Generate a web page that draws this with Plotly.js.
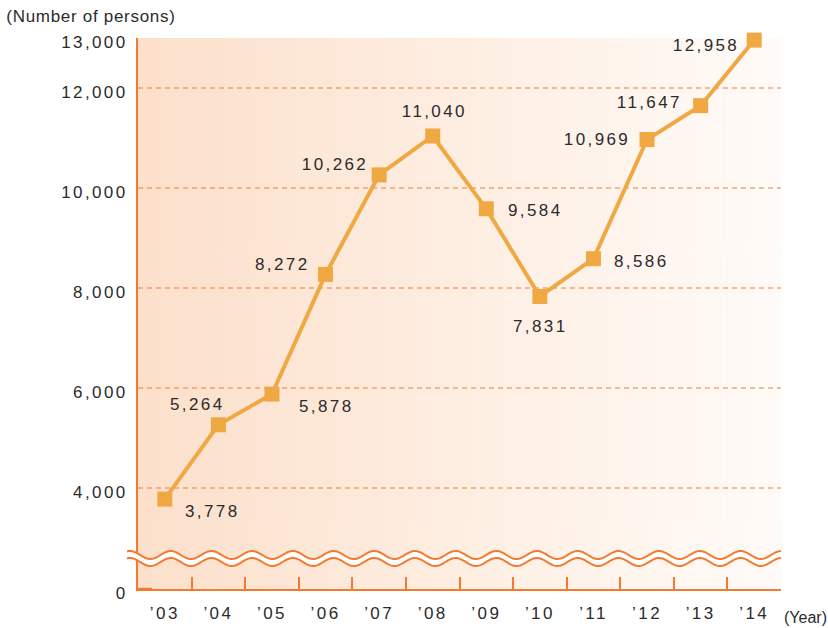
<!DOCTYPE html>
<html>
<head>
<meta charset="utf-8">
<script src="https://cdn.plot.ly/plotly-3.0.1.min.js"></script>
<style>
  html, body { margin: 0; padding: 0; background: #fff; }
  #chart { width: 828px; height: 628px; }
  .xtick text, .ytick text { letter-spacing: 2.4px; }
</style>
</head>
<body>
<div id="chart"></div>
<script>
// ---- data ----
var years = ["\u201903", "\u201904", "\u201905", "\u201906", "\u201907", "\u201908",
             "\u201909", "\u201910", "\u201911", "\u201912", "\u201913", "\u201914"];
var persons = [3778, 5264, 5878, 8272, 10262, 11040, 9584, 7831, 8586, 10969, 11647, 12958];
var yTickVals = [1980, 4000, 6000, 8000, 10000, 12000, 13000];
var yTickText = ["0", "4,000", "6,000", "8,000", "10,000", "12,000", "13,000"];
var gridVals = [4000, 6000, 8000, 10000, 12000];

// ---- label offsets (pixels, screen: right / down) ----
var labelDx = [48, -21, 55, -43, -44, 2, 49, 1, 48, -50, -51, -48];
var labelDy = [12, -20, 12, -10, -10, -25, 2, 30, 3, 0, -3, 5];

// ---- layout geometry ----
var W = 828, H = 628;
var mL = 138, mR = 47, mT = 38, mB = 39;
var pw = W - mL - mR, ph = H - mT - mB;
var axisColor = "#F47A30";
var lineColor = "#F0A843";
var textColor = "#2b2b2b";
var fontFam = "Liberation Sans, Arial, sans-serif";

function px2x(px) { return (px - mL) / pw; }
function py2y(py) { return (H - mB - py) / ph; }

// background gradient
var cv = document.createElement("canvas");
cv.width = 400; cv.height = 4;
var ctx = cv.getContext("2d");
var g = ctx.createLinearGradient(0, 0, 400, 0);
g.addColorStop(0, "#FCE0CB");
g.addColorStop(0.5, "#FEEEE2");
g.addColorStop(1, "#FFFBF8");
ctx.fillStyle = g;
ctx.fillRect(0, 0, 400, 4);
var bgURL = cv.toDataURL("image/png");

// wave break
function wavePts(cy, amp, x0, x1, reverse) {
  var pts = [];
  var period = 40.7, crest0 = 130;
  for (var x = x0; x <= x1 + 0.001; x += 1.5) {
    var y = cy - amp * Math.cos(2 * Math.PI * (x - crest0) / period);
    pts.push([px2x(x), py2y(y)]);
  }
  if (reverse) pts.reverse();
  return pts;
}
function ptsPath(pts, start) {
  return pts.map(function (p, i) {
    return (i === 0 && start ? "M" : "L") + p[0].toFixed(5) + "," + p[1].toFixed(5);
  }).join(" ");
}
var wx0 = 127, wx1 = 782;
var topW = wavePts(555, 4, wx0, wx1, false);
var botW = wavePts(562, 4, wx0, wx1, true);
var fillPath = ptsPath(topW, true) + " " + ptsPath(botW, false) + " Z";

var shapes = [];
gridVals.forEach(function (v) {
  shapes.push({
    type: "line", xref: "paper", yref: "y", x0: 0, x1: 1, y0: v, y1: v,
    line: { color: axisColor, width: 1, dash: "5px,4px" }, layer: "below"
  });
});
shapes.push({
  type: "line", xref: "paper", yref: "paper", x0: 0, x1: px2x(152), y0: 0, y1: 0,
  line: { color: axisColor, width: 2.5 }, layer: "above"
});
shapes.push({ type: "path", xref: "paper", yref: "paper", path: fillPath,
  fillcolor: "#ffffff", line: { width: 0 }, layer: "above" });
shapes.push({ type: "path", xref: "paper", yref: "paper", path: ptsPath(topW, true),
  line: { color: axisColor, width: 2 }, layer: "above" });
shapes.push({ type: "path", xref: "paper", yref: "paper", path: ptsPath(wavePts(562, 4, wx0, wx1, false), true),
  line: { color: axisColor, width: 2 }, layer: "above" });

var annotations = persons.map(function (v, i) {
  return {
    x: years[i], y: v, xref: "x", yref: "y",
    text: v.toLocaleString("en-US"), showarrow: false,
    xshift: labelDx[i], yshift: -labelDy[i],
    font: { family: fontFam, size: 17, color: textColor }
  };
});
annotations.push({
  xref: "paper", yref: "paper", x: px2x(11), y: py2y(16), xanchor: "left", yanchor: "middle",
  text: "(Number of persons)", showarrow: false,
  font: { family: fontFam, size: 17, color: textColor }
});
annotations.push({
  xref: "paper", yref: "paper", x: px2x(782), y: py2y(617), xanchor: "left", yanchor: "middle",
  text: "(Year)", showarrow: false,
  font: { family: fontFam, size: 16, color: textColor }
});

var trace = {
  type: "scatter", mode: "lines+markers",
  x: years, y: persons,
  line: { color: lineColor, width: 4 },
  marker: { symbol: "square", size: 15, color: lineColor },
  cliponaxis: false, hoverinfo: "skip"
};

var layout = {
  width: W, height: H,
  margin: { l: mL, r: mR, t: mT, b: mB },
  paper_bgcolor: "#ffffff",
  plot_bgcolor: "rgba(0,0,0,0)",
  showlegend: false,
  font: { family: fontFam, color: textColor },
  images: [{ source: bgURL, xref: "paper", yref: "paper", x: 0, y: 1, sizex: 1, sizey: 1,
    xanchor: "left", yanchor: "top", sizing: "stretch", layer: "below" }],
  xaxis: {
    type: "category", categoryorder: "array", categoryarray: years,
    range: [-0.5, 11.5], fixedrange: true,
    showline: true, linecolor: axisColor, linewidth: 2,
    ticks: "inside", tickson: "boundaries", ticklen: 12, tickwidth: 2, tickcolor: axisColor,
    showgrid: false, zeroline: false,
    tickfont: { family: fontFam, size: 17, color: textColor },
    ticklabelstandoff: 8
  },
  yaxis: {
    range: [1980, 13000], fixedrange: true,
    tickmode: "array", tickvals: yTickVals, ticktext: yTickText,
    showline: true, linecolor: axisColor, linewidth: 2,
    ticks: "", showgrid: false, zeroline: false,
    tickfont: { family: fontFam, size: 17, color: textColor },
    ticklabelstandoff: 5, ticklabelshift: 4
  },
  shapes: shapes,
  annotations: annotations
};

Plotly.newPlot("chart", [trace], layout, { displayModeBar: false, staticPlot: true }).then(function () {
  document.querySelectorAll(".annotation-text").forEach(function (t) {
    if (t.textContent.indexOf("(Number") === 0) t.style.letterSpacing = "0.7px";
    else if (t.textContent.charAt(0) !== "(") t.style.letterSpacing = "2.4px";
  });
});
</script>
</body>
</html>
